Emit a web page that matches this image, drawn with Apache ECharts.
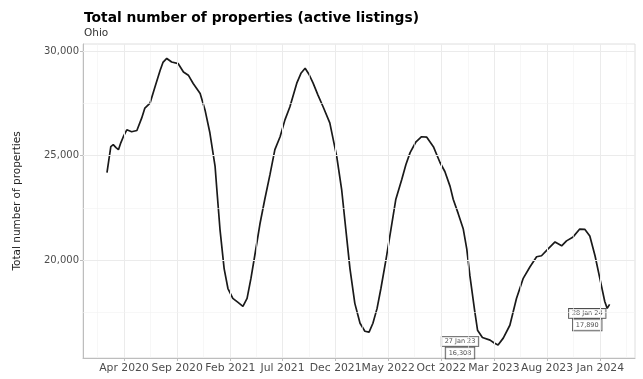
<!DOCTYPE html>
<html>
<head>
<meta charset="utf-8">
<script src="https://cdn.jsdelivr.net/npm/echarts@6/dist/echarts.min.js"></script>
<style>
html,body{margin:0;padding:0;background:#fff;}
#chart{width:643px;height:379px;}
</style>
</head>
<body>
<div id="chart"></div>
<script>
// ---- data ----
const dates = [
 '2020-02-12','2020-02-23','2020-03-01','2020-03-09','2020-03-16','2020-03-23','2020-03-30','2020-04-09','2020-04-23','2020-05-08',
 '2020-05-22','2020-05-31','2020-06-15','2020-06-29','2020-07-14','2020-07-22','2020-08-02','2020-08-16','2020-09-04','2020-09-19',
 '2020-10-03','2020-10-17','2020-11-06','2020-11-20','2020-12-04','2020-12-19','2020-12-24','2021-01-02','2021-01-14','2021-01-25',
 '2021-02-08','2021-02-23','2021-03-09','2021-03-21','2021-04-01','2021-04-13','2021-04-27','2021-05-11','2021-05-26','2021-06-09',
 '2021-06-24','2021-07-08','2021-07-22','2021-08-11','2021-08-23','2021-09-04','2021-09-15','2021-09-27','2021-10-11','2021-10-26',
 '2021-11-14','2021-12-04','2021-12-18','2021-12-30','2022-01-11','2022-01-25','2022-02-09','2022-02-23','2022-03-07','2022-03-18',
 '2022-03-30','2022-04-10','2022-04-25','2022-05-09','2022-05-23','2022-06-09','2022-06-21','2022-07-03','2022-07-20','2022-08-05',
 '2022-08-20','2022-09-08','2022-09-27','2022-10-11','2022-10-26','2022-11-04','2022-11-18','2022-12-03','2022-12-13','2022-12-22',
 '2023-01-05','2023-01-13','2023-01-27','2023-02-18','2023-03-02','2023-03-13','2023-03-28','2023-04-16','2023-05-05','2023-05-24',
 '2023-06-13','2023-07-02','2023-07-16','2023-08-04','2023-08-24','2023-09-12','2023-09-26','2023-10-15','2023-11-03','2023-11-18',
 '2023-12-02','2023-12-17','2023-12-31','2024-01-14','2024-01-21','2024-01-28'
];
const values = [
 24190,25430,25520,25380,25280,25620,25900,26230,26140,26200,
 26800,27270,27510,28270,29075,29450,29640,29470,29390,28995,
 28840,28445,27970,27180,26090,24480,23390,21490,19600,18650,
 18175,17985,17800,18175,19120,20310,21730,22915,24100,25285,
 25900,26705,27320,28460,28930,29170,28885,28460,27890,27320,
 26565,24950,23390,21490,19600,17940,16990,16610,16565,16990,
 17700,18650,20070,21490,22915,23860,24575,25140,25660,25900,
 25880,25425,24670,24240,23530,22915,22250,21490,20545,19265,
 17560,16660,16308,16185,16045,15950,16280,16895,18175,19120,
 19690,20165,20215,20545,20875,20690,20925,21115,21490,21470,
 21160,20215,19120,18030,17700,17890
];
const annDates  = ['2023-01-27','2024-01-28'];
const annValues = [16308,17890];
const annDateLabels = ['27 Jan 23','28 Jan 24'];
const xTicks = ['2020-04-01','2020-09-01','2021-02-01','2021-07-01','2021-12-01','2022-05-01','2022-10-01','2023-03-01','2023-08-01','2024-01-01'];
const xMinorTicks = ['2020-01-16','2020-06-16','2020-11-16','2021-04-16','2021-09-16','2022-02-14','2022-07-16','2022-12-16','2023-05-16','2023-10-16','2024-03-16'];
const yTicks = [20000,25000,30000];
const yMinorTicks = [17500,22500,27500];
const monthNames = ['Jan','Feb','Mar','Apr','May','Jun','Jul','Aug','Sep','Oct','Nov','Dec'];

const FONT = 'DejaVu Sans';
const chart = echarts.init(document.getElementById('chart'), null, {renderer:'canvas'});
const ts = d => { const p = d.split('-').map(Number); return Date.UTC(p[0], p[1]-1, p[2]); };
const fmtNum = v => Math.round(v).toLocaleString('en-US');
const fmtDate = v => { const d = new Date(v); return monthNames[d.getUTCMonth()] + ' ' + d.getUTCFullYear(); };

const gridLines = [];
xMinorTicks.forEach(d => gridLines.push({xAxis: ts(d), lineStyle:{color:'#f2f2f2', width:0.6, type:'solid'}}));
xTicks.forEach(d => gridLines.push({xAxis: ts(d), lineStyle:{color:'#ebebeb', width:1, type:'solid'}}));
yMinorTicks.forEach(v => gridLines.push({yAxis: v, lineStyle:{color:'#f2f2f2', width:0.6, type:'solid'}}));
yTicks.forEach(v => gridLines.push({yAxis: v, lineStyle:{color:'#ebebeb', width:1, type:'solid'}}));

const annOffsets = [[-4, 10], [-4, 15]];

chart.setOption({
  animation:false,
  backgroundColor:'#fff',
  title:{
    text:'Total number of properties (active listings)',
    subtext:'Ohio',
    left:79, top:6, itemGap:3,
    textStyle:{fontFamily:FONT, fontSize:13.8, fontWeight:'bold', color:'#000'},
    subtextStyle:{fontFamily:FONT, fontSize:10.5, color:'#333'}
  },
  grid:{left:83, right:8, top:44, bottom:21, show:true, borderColor:'#dedede', borderWidth:1, backgroundColor:'transparent'},
  xAxis:{
    type:'value',
    min: ts('2019-12-05'), max: ts('2024-04-10'),
    axisLine:{show:true, lineStyle:{color:'#bdbdbd', width:1}},
    axisTick:{show:true, length:3, lineStyle:{color:'#bdbdbd'}, customValues: xTicks.map(ts)},
    splitLine:{show:false},
    axisLabel:{
      customValues: xTicks.map(ts),
      margin:5, fontFamily:FONT, fontSize:10.8, color:'#4d4d4d', hideOverlap:false,
      formatter: v => fmtDate(v)
    }
  },
  yAxis:{
    type:'value',
    min:15330, max:30330,
    name:'Total number of properties',
    nameLocation:'middle', nameRotate:90, nameGap:60,
    nameTextStyle:{fontFamily:FONT, fontSize:10.5, color:'#222'},
    axisLine:{show:true, lineStyle:{color:'#bdbdbd', width:1}},
    axisTick:{show:true, length:3, lineStyle:{color:'#bdbdbd'}, customValues: yTicks},
    splitLine:{show:false},
    axisLabel:{customValues: yTicks, margin:4, fontFamily:FONT, fontSize:10, color:'#4d4d4d', formatter: v => fmtNum(v)}
  },
  series:[
    {
      type:'line', data:[], silent:true, z:1,
      markLine:{silent:true, symbol:['none','none'], label:{show:false}, animation:false, data:gridLines}
    },
    {
      type:'line', z:3,
      data: dates.map((d,i)=>[ts(d), values[i]]),
      showSymbol:false, symbol:'none', smooth:false,
      lineStyle:{color:'#1a1a1a', width:1.7}
    },
    {
      type:'scatter', z:4,
      data: annDates.map((d,i)=>({value:[ts(d), annValues[i]], name:annDateLabels[i], label:{offset:annOffsets[i]}})),
      symbol:'circle', symbolSize:0.1, itemStyle:{color:'rgba(0,0,0,0)'},
      label:{
        show:true, position:'left', distance:0, align:'right', verticalAlign:'middle',
        formatter: p => '{a|' + p.name + '}\n{b|' + fmtNum(p.value[1]) + '}',
        rich:{
          a:{fontFamily:FONT, fontSize:6.5, color:'#222', borderColor:'#222', borderWidth:0.8, backgroundColor:'#fff', padding:[1,3,1,3], lineHeight:11},
          b:{fontFamily:FONT, fontSize:6.5, color:'#222', borderColor:'#222', borderWidth:0.8, backgroundColor:'#fff', padding:[2,3,2,3], lineHeight:12, align:'center'}
        }
      }
    }
  ]
});
</script>
</body>
</html>
